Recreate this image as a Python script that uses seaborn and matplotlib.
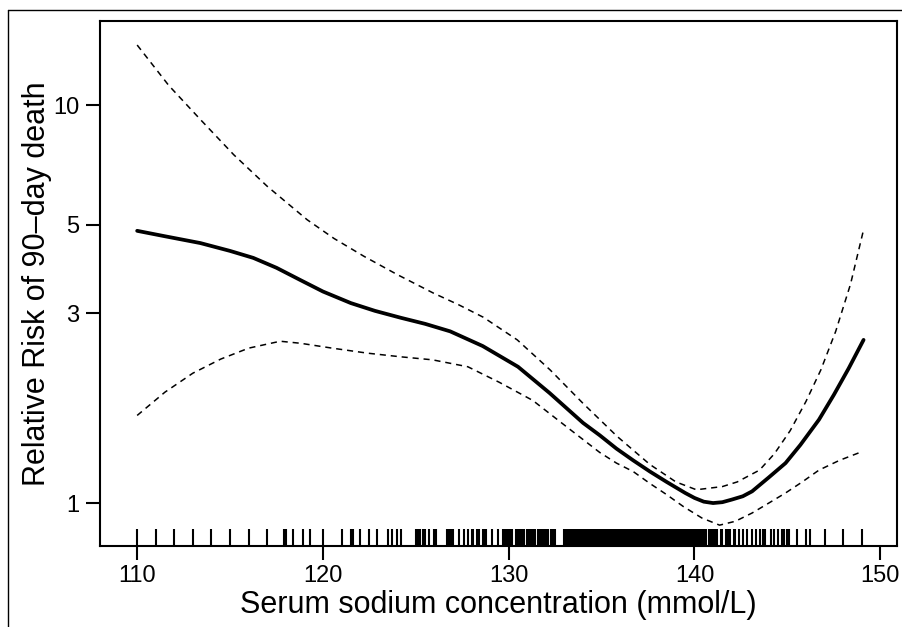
import numpy as np
import matplotlib
matplotlib.use("Agg")
import matplotlib.pyplot as plt
import seaborn as sns
from matplotlib.lines import Line2D
from matplotlib.ticker import NullLocator, FixedLocator, FixedFormatter

# Relative risk curve (solid)
fit_x = [110, 111.5, 113.4, 115, 116.25, 117.5, 118.8, 120, 121.5, 122.8, 124.2,
         125.5, 126.85, 128.6, 130.5, 132.2, 134, 134.9, 135.8, 136.7, 137.6,
         138.5, 139.5, 140.0, 140.5, 141.0, 141.5, 142.0, 142.6, 143.1, 144,
         144.9, 145.7, 146.7, 147.5, 148.3, 149.1]
fit_y = [4.83, 4.68, 4.50, 4.30, 4.13, 3.90, 3.63, 3.40, 3.18, 3.04, 2.92,
         2.82, 2.70, 2.48, 2.20, 1.89, 1.59, 1.48, 1.37, 1.28, 1.20,
         1.13, 1.06, 1.03, 1.008, 1.00, 1.005, 1.02, 1.04, 1.07, 1.16,
         1.26, 1.40, 1.62, 1.87, 2.18, 2.57]

# upper 95% limit (dashed)
upper_x = [110, 111.7, 113.4, 115.2, 117, 119.15, 120.6, 122.2, 124, 125.94,
           127.3, 128.63, 130.46, 132.23, 134, 135.84, 137.6, 139, 140.1,
           141.5, 142.3, 143.5, 144.3, 145.15, 146, 146.8, 147.6, 148.4, 149.1]
upper_y = [14.15, 11.2, 9.2, 7.5, 6.25, 5.15, 4.62, 4.17, 3.75, 3.37,
           3.15, 2.93, 2.57, 2.16, 1.78, 1.47, 1.25, 1.13, 1.08,
           1.10, 1.13, 1.21, 1.33, 1.52, 1.80, 2.16, 2.70, 3.55, 4.86]

# lower 95% limit (dashed)
lower_x = [110, 111.5, 113, 114.5, 116, 117.7, 118.8, 120.5, 122.4, 124.2,
           125.9, 127.8, 129.5, 131.3, 133.15, 134.9, 135.8, 136.7, 137.6,
           138.5, 139.4, 140.4, 141.35, 142.2, 143.1, 144, 144.9, 145.8,
           146.7, 147.8, 148.9]
lower_y = [1.66, 1.90, 2.12, 2.30, 2.45, 2.55, 2.52, 2.45, 2.38, 2.33,
           2.29, 2.20, 2.01, 1.81, 1.55, 1.34, 1.26, 1.20, 1.12,
           1.05, 0.98, 0.917, 0.88, 0.90, 0.944, 1.00, 1.06, 1.13,
           1.21, 1.28, 1.34]

# observed sodium values (rug)
sodium = [
    110, 111, 112, 113, 114, 115, 116, 117, 117.9, 118, 118.4, 118.9, 119.3,
    120, 121, 121.5, 121.6, 122, 122.5, 122.9, 123.5, 123.7, 124, 124.2,
    125, 125.1, 125.2, 125.4, 125.5, 125.7, 126, 126.1, 126.7, 126.8, 126.9,
    127, 127.3, 127.6, 127.8, 128, 128.1, 128.3, 128.4, 128.6, 128.7, 128.8,
    129.1, 129.4, 129.7, 129.8, 129.9,
    130.0, 130.1, 130.2, 130.4, 130.5, 130.6, 130.7, 130.8,
    131.0, 131.1, 131.2, 131.3, 131.4, 131.6, 131.7, 131.8, 131.9,
    132.0, 132.1, 132.3, 132.4, 132.5,
    133.0, 133.1, 133.2, 133.3, 133.4, 133.5, 133.6, 133.7, 133.8, 133.9,
    134.0, 134.1, 134.2, 134.3, 134.4, 134.5, 134.6, 134.7, 134.8, 134.9,
    135.0, 135.1, 135.2, 135.3, 135.4, 135.5, 135.6, 135.7, 135.8, 135.9,
    136.0, 136.1, 136.2, 136.3, 136.4, 136.5, 136.6, 136.7, 136.8, 136.9,
    137.0, 137.1, 137.2, 137.3, 137.4, 137.5, 137.6, 137.7, 137.8, 137.9,
    138.0, 138.1, 138.2, 138.3, 138.4, 138.5, 138.6, 138.7, 138.8, 138.9,
    139.0, 139.1, 139.2, 139.3, 139.4, 139.5, 139.6, 139.7, 139.8, 139.9,
    140.0, 140.1, 140.2, 140.3, 140.4, 140.5, 140.6, 140.8, 140.9,
    141.0, 141.1, 141.2, 141.4, 141.5, 141.7, 141.8, 141.9,
    142.1, 142.2, 142.4, 142.6, 142.8,
    143.1, 143.3, 143.5, 143.7, 143.8, 144.1, 144.3, 144.5, 144.7, 144.8,
    145.0, 145.1, 145.5, 146.0, 146.2, 147, 148, 149,
]

x_ticks = [110, 120, 130, 140, 150]
y_ticks = [1, 3, 5, 10]
y_tick_labels = ["1", "3", "5", "10"]

sns.set_style("ticks")
plt.rcParams["font.family"] = ["Liberation Sans", "DejaVu Sans"]
plt.rcParams["text.color"] = "black"
plt.rcParams["axes.labelcolor"] = "black"

fig = plt.figure(figsize=(9.02, 6.27), dpi=100)
ax = fig.add_axes([100 / 902, 81 / 627, 797 / 902, 525 / 627])

sns.lineplot(x=fit_x, y=fit_y, ax=ax, color="black", lw=2.7, sort=False)
sns.lineplot(x=upper_x, y=upper_y, ax=ax, color="black", lw=1.1,
             linestyle=(0, (4, 3.2)), sort=False)
sns.lineplot(x=lower_x, y=lower_y, ax=ax, color="black", lw=1.1,
             linestyle=(0, (4, 3.2)), sort=False)
sns.rugplot(x=sodium, ax=ax, height=0.032, color="black", linewidth=1.5)

ax.set_yscale("log")
ax.set_xlim(108.0, 150.9)
ax.set_ylim(0.780, 16.26)
ax.yaxis.set_major_locator(FixedLocator(y_ticks))
ax.yaxis.set_major_formatter(FixedFormatter(y_tick_labels))
ax.yaxis.set_minor_locator(NullLocator())
ax.set_xticks(x_ticks)

for s in ax.spines.values():
    s.set_visible(True)
    s.set_linewidth(1.5)
    s.set_color("black")
ax.tick_params(axis="both", length=10, width=1.5, labelsize=17, colors="black",
               labelcolor="black", pad=4)
ax.tick_params(axis="y", pad=5)

ax.set_xlabel("Serum sodium concentration (mmol/L)", fontsize=22, labelpad=2)
ax.set_ylabel("Relative Risk of 90\u2013day death", fontsize=22, labelpad=0.5)

# outer frame (left and top edges only visible)
fig.add_artist(Line2D([8 / 902, 8 / 902], [0, 1 - 10 / 627], transform=fig.transFigure,
                      color="black", lw=1))
fig.add_artist(Line2D([8 / 902, 1], [1 - 10 / 627, 1 - 10 / 627], transform=fig.transFigure,
                      color="black", lw=1))

fig.savefig("out.png", dpi=100)
